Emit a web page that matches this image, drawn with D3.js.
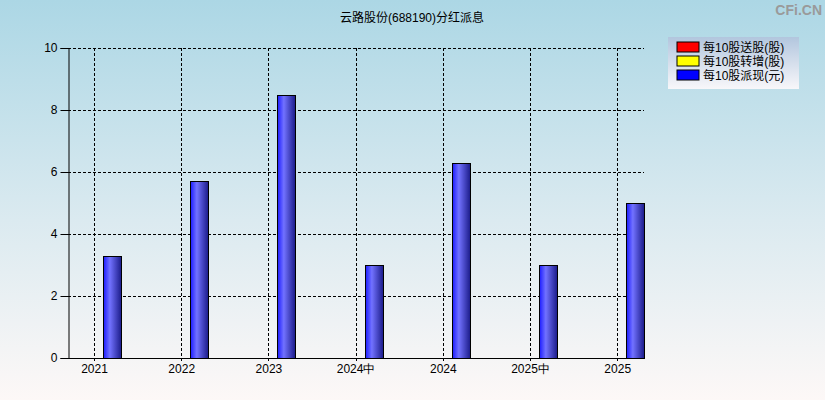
<!DOCTYPE html>
<html>
<head>
<meta charset="utf-8">
<script src="https://cdn.jsdelivr.net/npm/d3@7"></script>
<style>
  body { margin: 0; }
  svg { display: block; font-family: "Liberation Sans", Arial, "Noto Sans CJK SC", sans-serif; }
</style>
</head>
<body>
<svg id="chart" width="825" height="400"></svg>
<script>
// periods and cash dividend per 10 shares (yuan)
const periods = ['2021', '2022', '2023', '2024中', '2024', '2025中', '2025']
const cashDiv = [3.3, 5.7, 8.5, 3.0, 6.3, 3.0, 5.0]
const yTicks = [0, 2, 4, 6, 8, 10]
const legendLabels = ['每10股送股(股)', '每10股转增(股)', '每10股派现(元)']
const legendColors = ['#ff0000', '#ffff00', '#0000ff']

const W = 825, H = 400
const plot = { left: 68, top: 48, right: 644, bottom: 358 }

const svg = d3.select('#chart')
const defs = svg.append('defs')

const bg = defs.append('linearGradient').attr('id', 'bg')
    .attr('x1', 0).attr('y1', 0).attr('x2', 0).attr('y2', 1)
bg.append('stop').attr('offset', '0%').attr('stop-color', '#acd7e5')
bg.append('stop').attr('offset', '55%').attr('stop-color', '#dbeaf0')
bg.append('stop').attr('offset', '100%').attr('stop-color', '#fdf8f7')

const legBg = defs.append('linearGradient').attr('id', 'legbg')
    .attr('x1', 0).attr('y1', 0).attr('x2', 0).attr('y2', 1)
legBg.append('stop').attr('offset', '0%').attr('stop-color', '#b2c6de')
legBg.append('stop').attr('offset', '100%').attr('stop-color', '#f8f7fa')

const barGrad = defs.append('linearGradient').attr('id', 'bar')
    .attr('x1', 0).attr('y1', 0).attr('x2', 1).attr('y2', 0)
barGrad.append('stop').attr('offset', '0%').attr('stop-color', '#1c1cff')
barGrad.append('stop').attr('offset', '35%').attr('stop-color', '#7272ff')
barGrad.append('stop').attr('offset', '100%').attr('stop-color', '#1a1a88')

svg.append('rect').attr('width', W).attr('height', H).attr('fill', 'url(#bg)')

// scales
const step = 87.2
const x = d3.scalePoint()
    .domain(periods)
    .range([94, 94 + step * (periods.length - 1)])
const y = d3.scaleLinear().domain([0, 10]).range([plot.bottom, plot.top])

// grid
const grid = svg.append('g').attr('stroke', '#000').attr('stroke-dasharray', '3,2')
grid.selectAll('line.h').data(yTicks.filter(d => d > 0)).enter().append('line')
    .attr('x1', plot.left).attr('x2', plot.right)
    .attr('y1', d => y(d) + 0.5).attr('y2', d => y(d) + 0.5)
grid.selectAll('line.v').data(periods).enter().append('line')
    .attr('x1', d => Math.round(x(d)) + 0.5).attr('x2', d => Math.round(x(d)) + 0.5)
    .attr('y1', plot.top).attr('y2', plot.bottom + 4)

// bars
const barOff = 9, barW = 18
svg.selectAll('rect.bar').data(cashDiv).enter().append('rect')
    .attr('class', 'bar')
    .attr('x', (d, i) => Math.round(x(periods[i])) + barOff + 0.5)
    .attr('y', d => Math.round(y(d)) + 0.5)
    .attr('width', barW)
    .attr('height', d => plot.bottom - Math.round(y(d)))
    .attr('fill', 'url(#bar)')
    .attr('stroke', '#000')
    .attr('stroke-width', 1)

// axes
const yAxis = d3.axisLeft(y).tickValues(yTicks).tickSize(8).tickPadding(3)
const ya = svg.append('g').attr('transform', `translate(${plot.left + 0.5},0)`).call(yAxis)
ya.select('.domain').attr('stroke', '#000')
ya.selectAll('text').attr('font-size', 12).attr('fill', '#000')

const xAxis = d3.axisBottom(x).tickSize(0).tickPadding(6)
const xa = svg.append('g').attr('transform', `translate(0,${plot.bottom + 0.5})`).call(xAxis)
xa.select('.domain').remove()
xa.selectAll('text').attr('font-size', 12).attr('fill', '#000')
svg.append('line')
    .attr('x1', plot.left).attr('x2', plot.right + 1)
    .attr('y1', plot.bottom + 0.5).attr('y2', plot.bottom + 0.5)
    .attr('stroke', '#000')

// title
svg.append('text').attr('x', 412).attr('y', 22)
    .attr('text-anchor', 'middle').attr('font-size', 12)
    .text('云路股份(688190)分红派息')

// watermark
svg.append('text').attr('x', 822).attr('y', 15)
    .attr('text-anchor', 'end').attr('font-size', 14).attr('font-weight', 'bold')
    .attr('fill', '#9a9a9a')
    .text('CFi.CN')

// legend
const leg = svg.append('g').attr('transform', 'translate(668,37)')
leg.append('rect').attr('width', 131).attr('height', 52).attr('fill', 'url(#legbg)')
const items = leg.selectAll('g.item').data(legendLabels).enter().append('g')
    .attr('transform', (d, i) => `translate(9,${5 + i * 14})`)
items.append('rect').attr('width', 22).attr('height', 10)
    .attr('fill', (d, i) => legendColors[i]).attr('stroke', '#000').attr('stroke-width', 1)
items.append('text').attr('x', 26).attr('y', 10).attr('font-size', 12)
    .text(d => d)
</script>
</body>
</html>
